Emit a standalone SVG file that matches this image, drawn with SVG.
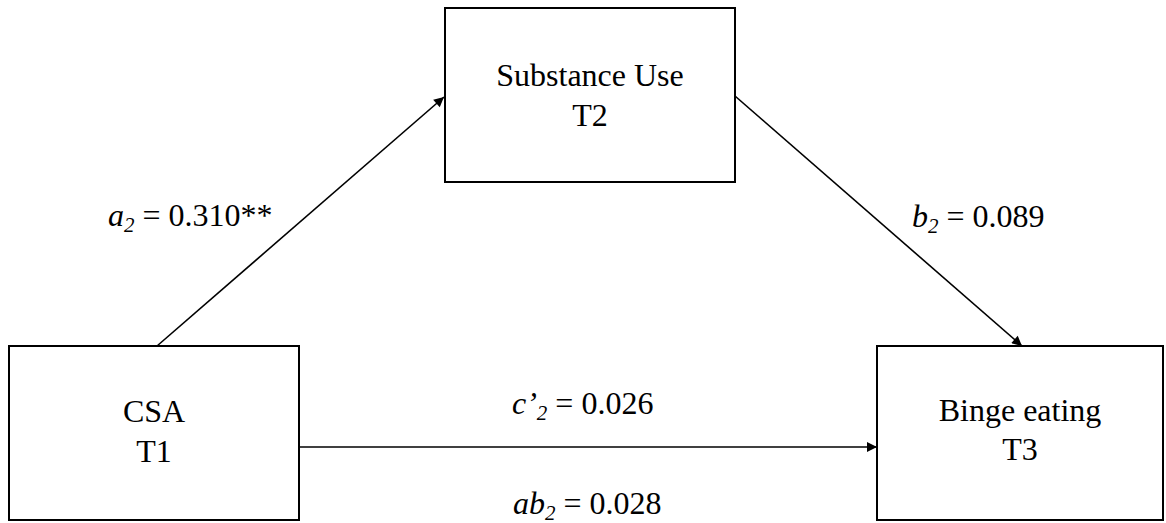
<svg xmlns="http://www.w3.org/2000/svg" width="1166" height="523" viewBox="0 0 1166 523">
<style>
.box{fill:#fff;stroke:#000;stroke-width:2}
.t{font-family:"Liberation Serif","Times New Roman",serif;font-size:32px;fill:#000;text-anchor:middle}
.l{font-family:"Liberation Serif","Times New Roman",serif;font-size:32px;fill:#000}
.i{font-style:italic}
.sub{font-size:21px;font-style:italic}
.c{stroke:#000;stroke-width:1.6;fill:none}
</style>
<defs>
<marker id="ah" viewBox="0 0 10 10" refX="10" refY="5" markerWidth="14" markerHeight="10" markerUnits="userSpaceOnUse" orient="auto">
<path d="M0,0 L10,5 L0,10 z" fill="#000"/>
</marker>
</defs>
<rect width="1166" height="523" fill="#fff"/>
<g id="connectors">
<line class="c" x1="157" y1="346" x2="444" y2="97" marker-end="url(#ah)"/>
<line class="c" x1="735" y1="96" x2="1022" y2="346" marker-end="url(#ah)"/>
<line class="c" x1="299" y1="447" x2="877" y2="447" marker-end="url(#ah)"/>
</g>
<g id="csa">
<rect class="box" x="9" y="346" width="290" height="174"/>
<text class="t" x="154" y="422">CSA</text>
<text class="t" x="154" y="462">T1</text>
</g>
<g id="substance">
<rect class="box" x="445" y="8" width="290" height="174"/>
<text class="t" x="590" y="86">Substance Use</text>
<text class="t" x="590" y="126">T2</text>
</g>
<g id="binge">
<rect class="box" x="877" y="346" width="286" height="174"/>
<text class="t" x="1020" y="421">Binge eating</text>
<text class="t" x="1020" y="460">T3</text>
</g>
<g id="labels">
<text class="l" x="108" y="226"><tspan class="i">a</tspan><tspan class="sub" dy="6">2</tspan><tspan dy="-6"> = 0.310**</tspan></text>
<text class="l" x="912" y="227"><tspan class="i">b</tspan><tspan class="sub" dy="6">2</tspan><tspan dy="-6"> = 0.089</tspan></text>
<text class="l" x="512" y="414"><tspan class="i">c’</tspan><tspan class="sub" dy="6">2</tspan><tspan dy="-6"> = 0.026</tspan></text>
<text class="l" x="513" y="514"><tspan class="i">ab</tspan><tspan class="sub" dy="6">2</tspan><tspan dy="-6"> = 0.028</tspan></text>
</g>
</svg>
